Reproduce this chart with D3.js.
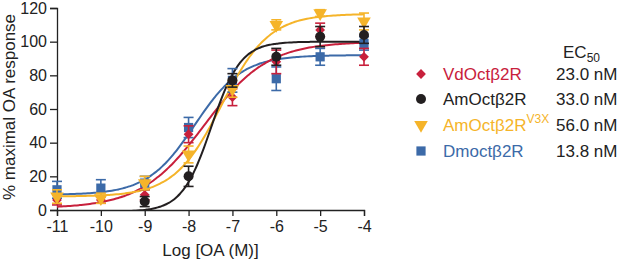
<!DOCTYPE html>
<html>
<head>
<meta charset="utf-8">
<script src="https://cdn.jsdelivr.net/npm/d3@7"></script>
<style>
  body { margin: 0; background: #fff; }
  svg { font-family: "Liberation Sans", Arial, sans-serif; }
</style>
</head>
<body>
<div id="chart"></div>
<script>
// log concentrations
const logDoses = [-11, -10, -9, -8, -7, -6, -5, -4];

const seriesNames = ["VdOctβ2R", "AmOctβ2R", "AmOctβ2R", "Dmoctβ2R"];
const seriesSup = ["", "", "V3X", ""];
const ec50Labels = ["23.0 nM", "33.0 nM", "56.0 nM", "13.8 nM"];
const colors = ["#c8203c", "#231f20", "#f5b42a", "#3c6aa8"];
const shapes = ["diamond", "circle", "triangleDown", "square"];

// mean responses (null = not shown)
const vdMeans = [6, 6, 9, 45, 67, 88, 107, 91];
const amMeans = [null, null, 5, 20, 77, 91, 103, 104];
const v3xMeans = [8, 7, 16, 33, 72, 110, 117, 112];
const dmMeans = [12, 13, 16, 49, 77, 78, 91, 99];

const vdErr = [3, 2, 3, 5, 5, 7, 4, 5];
const amErr = [null, null, 3, 6, 4, 5, 6, 5];
const v3xErr = [4, 3, 4, 5, 5, 3, 2, 5];
const dmErr = [5, 5, 4, 6, 7, 7, 5, 4];

// fitted curve parameters: bottom, top, log EC50, hill slope
const fitBottom = [1, -1, 8, 9];
const fitTop = [100, 100, 116.5, 92];
const fitLogEC50 = [-7.638, -7.48, -7.25, -7.86];
const fitHill = [0.6, 1.3, 0.8, 0.8];

const yTicks = [0, 20, 40, 60, 80, 100, 120];

const means = [vdMeans, amMeans, v3xMeans, dmMeans];
const errs = [vdErr, amErr, v3xErr, dmErr];

const W = 617, H = 262;
const margin = { top: 8, left: 57, right: 253, bottom: 52 };

const svg = d3.select("#chart").append("svg")
  .attr("width", W)
  .attr("height", H);

const x = d3.scaleLinear()
  .domain([-11, -4])
  .range([margin.left, W - margin.right]);

const y = d3.scaleLinear()
  .domain([0, 120])
  .range([H - margin.bottom, margin.top]);

// axes
const xAxis = svg.append("g")
  .attr("transform", `translate(0,${y(0)})`)
  .call(d3.axisBottom(x).tickValues(logDoses).tickSize(6).tickPadding(5).tickFormat(d => d));
const yAxis = svg.append("g")
  .attr("transform", `translate(${x(-11)},0)`)
  .call(d3.axisLeft(y).tickValues(yTicks).tickSize(7).tickPadding(3));

[xAxis, yAxis].forEach(g => {
  g.select(".domain").attr("stroke", "#222").attr("stroke-width", 1.3);
  g.selectAll(".tick line").attr("stroke", "#222").attr("stroke-width", 1.3);
  g.selectAll(".tick text").attr("font-size", 16).attr("fill", "#222")
    .attr("font-family", "Liberation Sans, Arial, sans-serif");
});
xAxis.selectAll(".tick text").text(d => d < 0 ? "-" + Math.abs(d) : d);

svg.append("text")
  .attr("x", x(-7.5))
  .attr("y", 256)
  .attr("text-anchor", "middle")
  .attr("font-size", 17)
  .attr("fill", "#222")
  .text("Log [OA (M)]");

svg.append("text")
  .attr("transform", `translate(15,${y(60) - 2}) rotate(-90)`)
  .attr("text-anchor", "middle")
  .attr("font-size", 17)
  .attr("fill", "#222")
  .text("% maximal OA response");

// clip curves to plotting area
svg.append("clipPath").attr("id", "plotClip")
  .append("rect")
  .attr("x", x(-11)).attr("y", 0)
  .attr("width", x(-4) - x(-11) + 2)
  .attr("height", y(0));

const symbolFor = {
  diamond: d3.symbol().type(d3.symbolSquare).size(48),
  circle: d3.symbol().type(d3.symbolCircle).size(78),
  triangleDown: d3.symbol().type(d3.symbolTriangle).size(80),
  square: d3.symbol().type(d3.symbolSquare).size(85)
};
const symbolRot = { diamond: 45, circle: 0, triangleDown: 180, square: 0 };

function logistic(i, lx) {
  return fitBottom[i] + (fitTop[i] - fitBottom[i]) / (1 + Math.pow(10, (fitLogEC50[i] - lx) * fitHill[i]));
}

const curveXs = d3.range(-11, -3.99, 0.05);
const line = d3.line().x(d => x(d[0])).y(d => y(d[1])).curve(d3.curveBasis);

const drawOrder = [3, 0, 2, 1];

// fitted curves
drawOrder.forEach(i => {
  svg.append("path")
    .datum(curveXs.map(lx => [lx, logistic(i, lx)]))
    .attr("clip-path", "url(#plotClip)")
    .attr("fill", "none")
    .attr("stroke", colors[i])
    .attr("stroke-width", 2)
    .attr("d", line);
});

// error bars and points
drawOrder.forEach(i => {
  const pts = logDoses.map((d, k) => ({ x: d, m: means[i][k], e: errs[i][k] }))
    .filter(p => p.m !== null);
  const g = svg.append("g");
  pts.forEach(p => {
    const lo = y(Math.max(0, p.m - p.e)), hi = y(p.m + p.e);
    g.append("line")
      .attr("x1", x(p.x)).attr("x2", x(p.x))
      .attr("y1", lo).attr("y2", hi)
      .attr("stroke", colors[i]).attr("stroke-width", 1.6);
    [lo, hi].forEach(yy => {
      g.append("line")
        .attr("x1", x(p.x) - 5).attr("x2", x(p.x) + 5)
        .attr("y1", yy).attr("y2", yy)
        .attr("stroke", colors[i]).attr("stroke-width", 1.6);
    });
  });
  g.selectAll("path.pt")
    .data(pts)
    .enter()
    .append("path")
    .attr("class", "pt")
    .attr("d", symbolFor[shapes[i]])
    .attr("transform", p => `translate(${x(p.x)},${y(p.m)}) rotate(${symbolRot[shapes[i]]})`)
    .attr("fill", colors[i]);
});

// legend
const legend = svg.append("g");
const ecHead = legend.append("text")
  .attr("x", 563).attr("y", 58)
  .attr("font-size", 17).attr("fill", "#222");
ecHead.append("tspan").text("EC");
ecHead.append("tspan").attr("font-size", 12).attr("dy", 4).text("50");

const rowY = [74, 99, 125, 151];
seriesNames.forEach((name, i) => {
  const ry = rowY[i];
  legend.append("path")
    .attr("d", symbolFor[shapes[i]])
    .attr("transform", `translate(421,${ry}) rotate(${symbolRot[shapes[i]]})`)
    .attr("fill", colors[i]);
  const t = legend.append("text")
    .attr("x", 443).attr("y", ry + 6)
    .attr("font-size", 17)
    .attr("fill", i === 1 ? "#222" : colors[i]);
  t.append("tspan").text(name);
  if (seriesSup[i]) {
    t.append("tspan").attr("font-size", 12).attr("dy", -8).text(seriesSup[i]);
  }
  legend.append("text")
    .attr("x", 556).attr("y", ry + 6)
    .attr("font-size", 17).attr("fill", "#222")
    .text(ec50Labels[i]);
});
</script>
</body>
</html>
